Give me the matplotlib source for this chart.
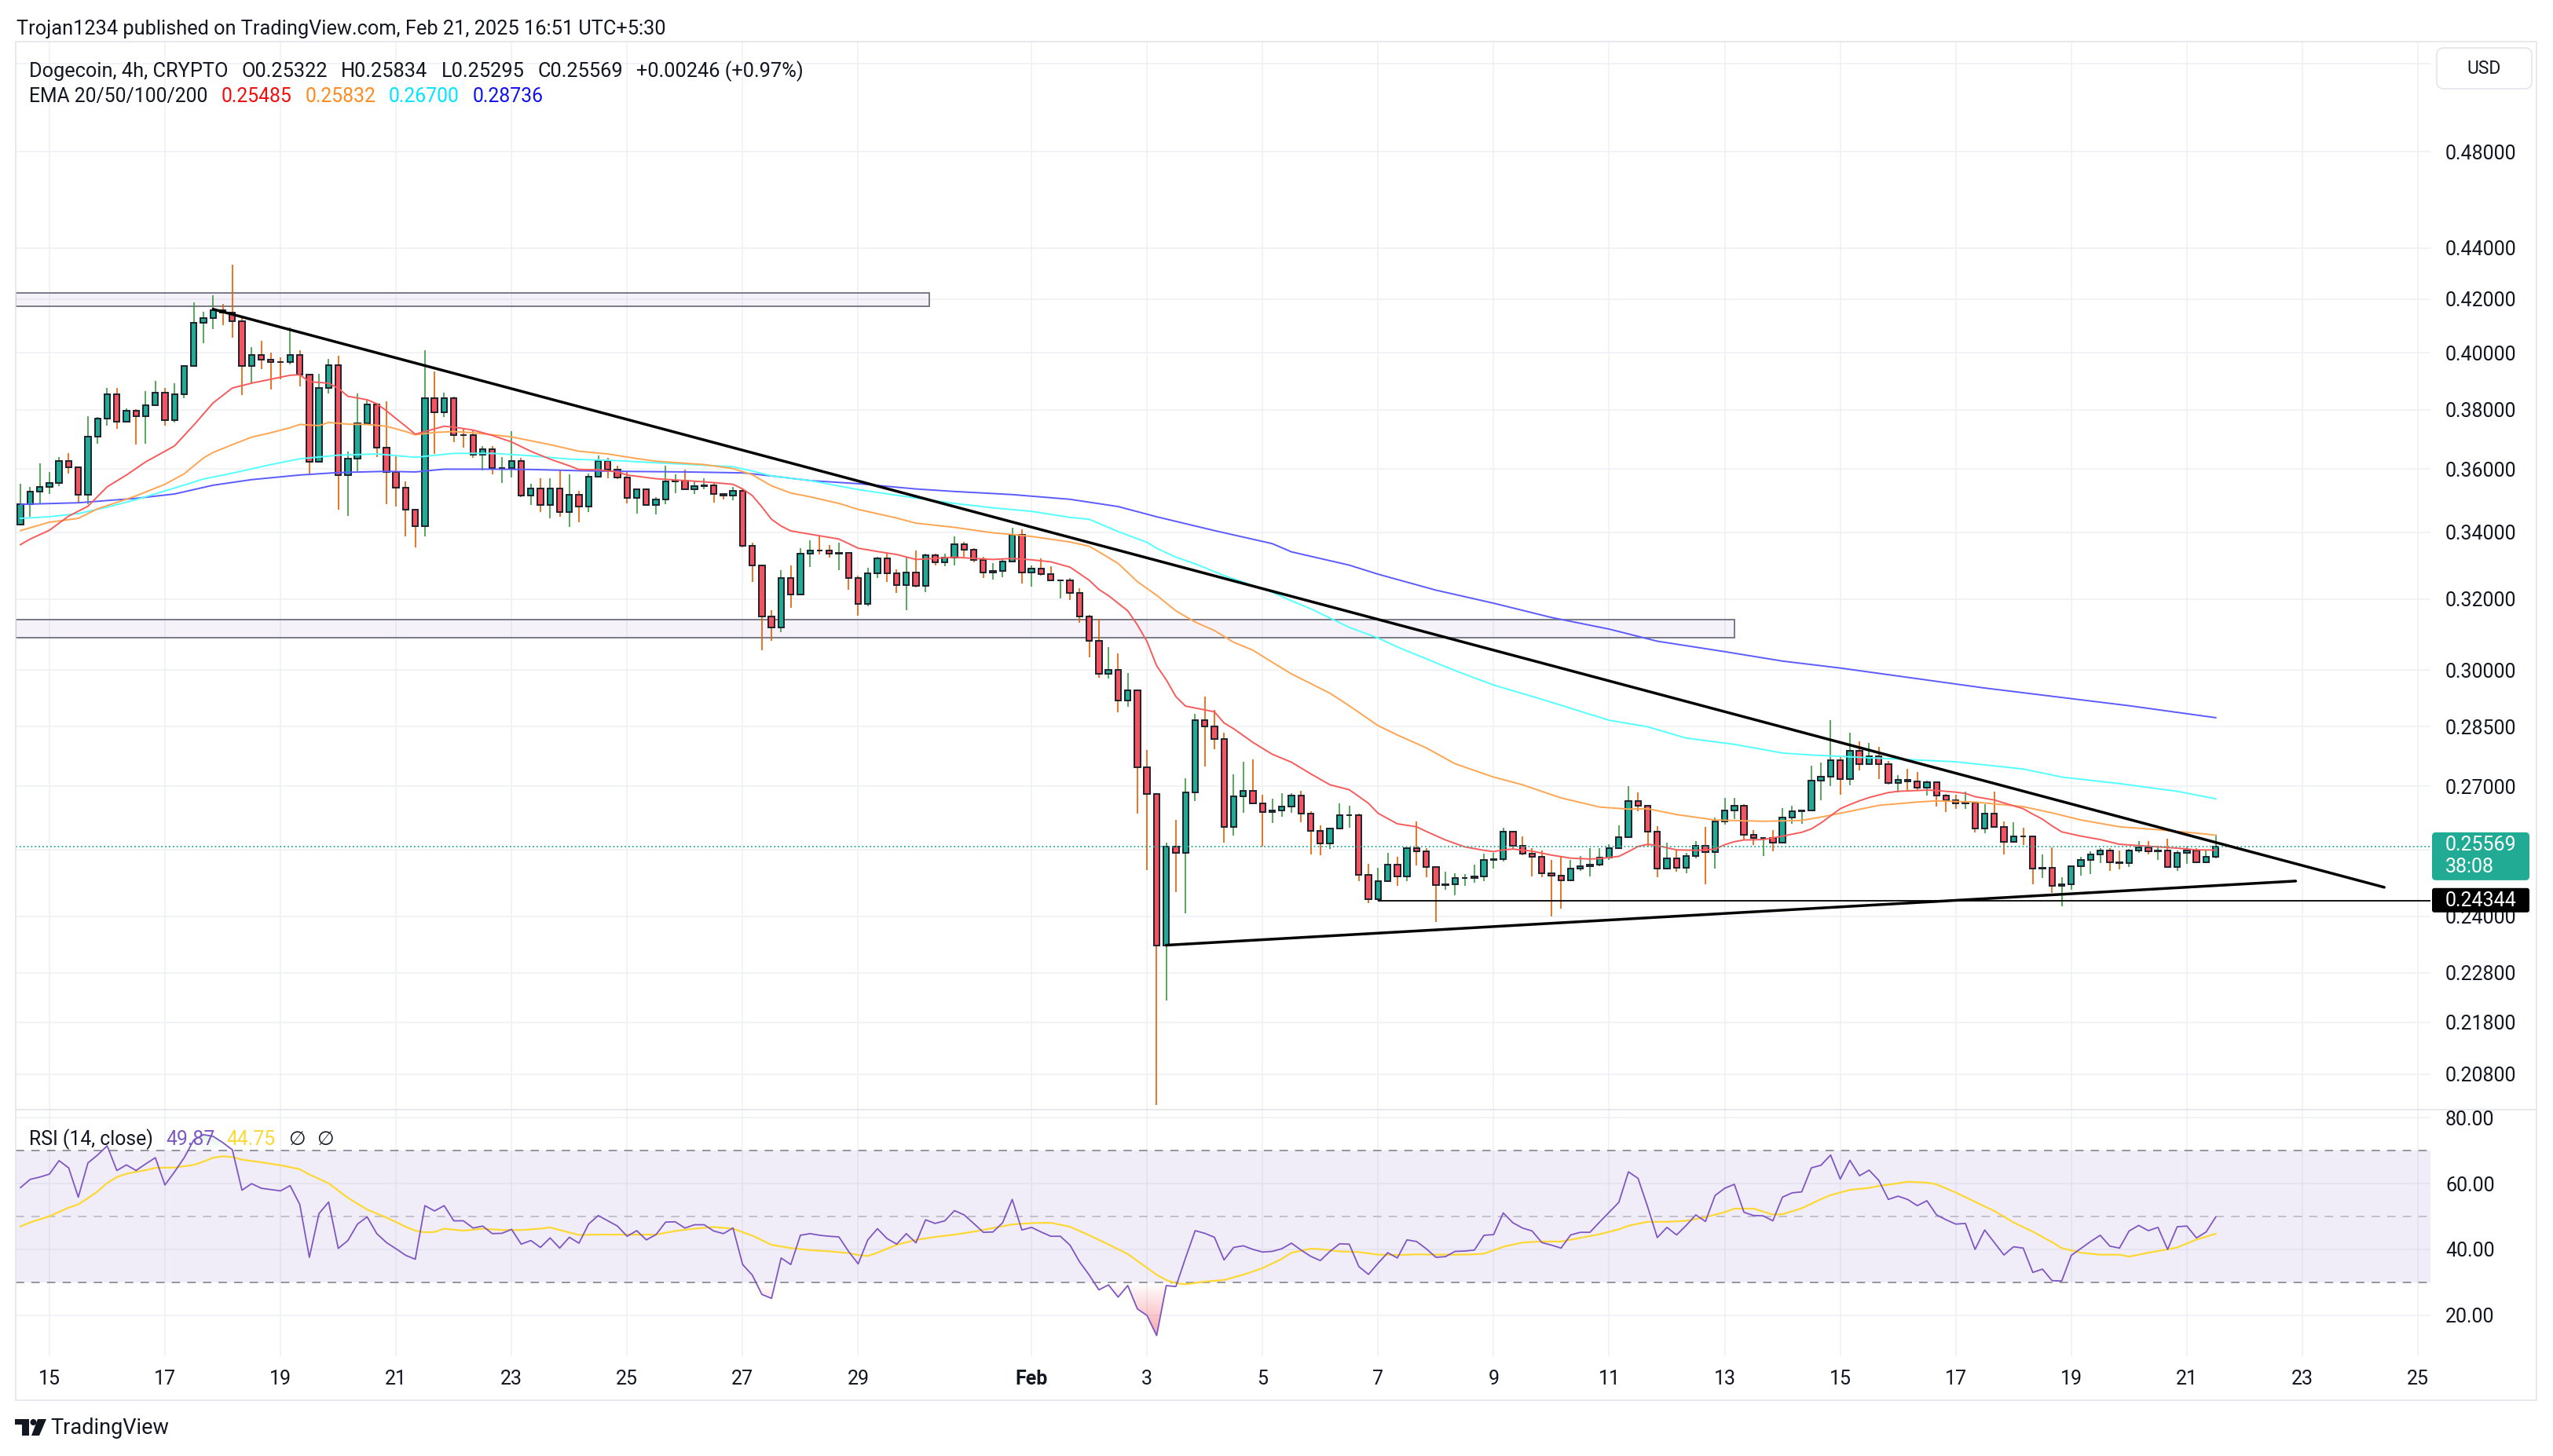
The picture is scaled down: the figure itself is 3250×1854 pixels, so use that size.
import numpy as np
import pandas as pd
import matplotlib
matplotlib.use("Agg")
import matplotlib.pyplot as plt
from matplotlib.patches import Rectangle, FancyBboxPatch, Polygon, Circle
from matplotlib.lines import Line2D
from matplotlib.path import Path
from matplotlib.ticker import NullLocator, NullFormatter
from matplotlib.transforms import IdentityTransform

# ------------------------------------------------------------------ data
start_time = "2025-01-14 12:00"
candle_hours = 4
first_open = 0.3424

close = [
    .3487, .3527, .3542, .3554, .3628, .3606, .3518, .3707, .3769, .3852,
    .3758, .3796, .3776, .3814, .3860, .3765, .3852, .3952, .4110, .4128,
    .4159, .4149, .4118, .3952, .3994, .3977, .3968, .3967, .3993, .3922,
    .3624, .3874, .3955, .3581, .3635, .3754, .3817, .3672, .3591, .3541,
    .3471, .3418, .3839, .3791, .3839, .3714, .3713, .3648, .3665, .3604,
    .3604, .3626, .3516, .3537, .3485, .3537, .3462, .3517, .3479, .3575,
    .3626, .3599, .3573, .3508, .3536, .3484, .3503, .3561, .3564, .3534,
    .3544, .3548, .3519, .3515, .3529, .3359, .3298, .3150, .3119, .3261,
    .3213, .3335, .3345, .3343, .3335, .3336, .3261, .3185, .3275, .3320,
    .3275, .3241, .3279, .3239, .3330, .3309, .3322, .3362, .3347, .3316,
    .3279, .3282, .3310, .3392, .3279, .3290, .3274, .3255, .3255, .3217,
    .3150, .3081, .2990, .3001, .2919, .2946, .2748, .2681, .2338, .2557,
    .2542, .2685, .2867, .2850, .2818, .2603, .2676, .2689, .2659, .2638,
    .2641, .2652, .2678, .2634, .2594, .2564, .2598, .2631, .2631, .2492,
    .2438, .2478, .2515, .2488, .2553, .2546, .2510, .2469, .2471, .2484,
    .2484, .2489, .2525, .2528, .2592, .2559, .2541, .2533, .2496, .2490,
    .2480, .2506, .2512, .2516, .2531, .2553, .2578, .2664, .2654, .2592,
    .2506, .2530, .2508, .2534, .2559, .2544, .2615, .2641, .2653, .2584,
    .2576, .2576, .2565, .2624, .2640, .2641, .2714, .2723, .2764, .2719,
    .2789, .2755, .2774, .2755, .2709, .2717, .2712, .2696, .2710, .2678,
    .2667, .2658, .2660, .2598, .2635, .2603, .2567, .2581, .2580, .2506,
    .2508, .2468, .2470, .2512, .2525, .2538, .2548, .2521, .2519, .2548,
    .2555, .2545, .2548, .2509, .2542, .2548, .2520, .25322, .25569,
]

high = [
    .3553, .3543, .3619, .3591, .3641, .3652, .3608, .3778, .3774, .3876,
    .3874, .3805, .3801, .3864, .3901, .3874, .3892, .3954, .4188, .4152,
    .4215, .4182, .4335, .4135, .4021, .4044, .4001, .3984, .4094, .4010,
    .3924, .3924, .3980, .3989, .3658, .3857, .3832, .3823, .3829, .3648,
    .3560, .3473, .4010, .3934, .3860, .3846, .3737, .3731, .3677, .3677,
    .3641, .3725, .3637, .3553, .3570, .3570, .3595, .3583, .3531, .3585,
    .3646, .3637, .3611, .3593, .3538, .3536, .3509, .3611, .3583, .3598,
    .3561, .3571, .3554, .3521, .3542, .3536, .3367, .3299, .3168, .3286,
    .3298, .3351, .3375, .3388, .3361, .3367, .3338, .3269, .3291, .3325,
    .3334, .3288, .3325, .3345, .3334, .3335, .3334, .3387, .3371, .3351,
    .3325, .3306, .3320, .3413, .3408, .3300, .3320, .3296, .3257, .3261,
    .3231, .3155, .3144, .3064, .3047, .2993, .2946, .2790, .2683, .2566,
    .2619, .2721, .2883, .2929, .2893, .2835, .2729, .2762, .2767, .2680,
    .2670, .2683, .2683, .2690, .2640, .2606, .2601, .2659, .2653, .2634,
    .2517, .2508, .2542, .2533, .2553, .2616, .2553, .2512, .2499, .2495,
    .2494, .2515, .2540, .2542, .2601, .2592, .2581, .2553, .2548, .2526,
    .2535, .2526, .2534, .2553, .2553, .2563, .2607, .2701, .2685, .2655,
    .2604, .2565, .2548, .2542, .2569, .2603, .2624, .2673, .2673, .2656,
    .2595, .2578, .2595, .2648, .2654, .2643, .2751, .2759, .2867, .2774,
    .2835, .2813, .2809, .2799, .2763, .2727, .2743, .2735, .2714, .2710,
    .2681, .2679, .2688, .2662, .2656, .2688, .2616, .2614, .2600, .2582,
    .2538, .2555, .2486, .2512, .2533, .2545, .2553, .2553, .2548, .2551,
    .2570, .2569, .2558, .2575, .2548, .2557, .2553, .2548, .25834,
]

low = [
    .3422, .3449, .3489, .3520, .3545, .3585, .3491, .3487, .3683, .3745,
    .3734, .3756, .3681, .3685, .3814, .3745, .3756, .3840, .3952, .4035,
    .4088, .4102, .4057, .3851, .3889, .3943, .3869, .3906, .3959, .3880,
    .3585, .3624, .3855, .3470, .3450, .3593, .3747, .3641, .3487, .3479,
    .3386, .3354, .3386, .3650, .3774, .3690, .3672, .3637, .3595, .3583,
    .3554, .3573, .3510, .3485, .3464, .3443, .3448, .3416, .3431, .3464,
    .3572, .3570, .3568, .3489, .3458, .3482, .3455, .3488, .3522, .3534,
    .3519, .3536, .3493, .3503, .3500, .3354, .3249, .3055, .3081, .3105,
    .3174, .3212, .3294, .3332, .3322, .3286, .3228, .3152, .3179, .3261,
    .3251, .3219, .3168, .3233, .3221, .3298, .3296, .3300, .3324, .3309,
    .3261, .3258, .3263, .3308, .3245, .3237, .3269, .3255, .3202, .3198,
    .3133, .3035, .2980, .2978, .2888, .2903, .2634, .2503, .2022, .2223,
    .2453, .2407, .2664, .2749, .2793, .2566, .2583, .2636, .2659, .2557,
    .2612, .2626, .2636, .2614, .2539, .2537, .2552, .2598, .2600, .2478,
    .2428, .2434, .2476, .2467, .2478, .2514, .2487, .2388, .2459, .2447,
    .2467, .2474, .2477, .2507, .2522, .2552, .2536, .2488, .2487, .2400,
    .2416, .2480, .2500, .2488, .2512, .2526, .2551, .2577, .2640, .2556,
    .2486, .2504, .2499, .2496, .2530, .2470, .2506, .2608, .2622, .2571,
    .2561, .2535, .2545, .2565, .2610, .2610, .2641, .2667, .2701, .2679,
    .2703, .2740, .2755, .2718, .2704, .2686, .2692, .2692, .2678, .2651,
    .2638, .2646, .2646, .2590, .2588, .2600, .2539, .2567, .2561, .2471,
    .2484, .2451, .2422, .2458, .2491, .2493, .2519, .2500, .2504, .2510,
    .2542, .2538, .2525, .2509, .2500, .2517, .2519, .2519, .25295,
]

# EMA readings: (candle index, value)
ema20 = [
    (0, .3362), (1, .3379), (3, .3406), (5, .3450), (7, .3481), (9, .3543), (11, .3581),
    (13, .3624), (15, .3659), (16, .3677), (18, .3747), (20, .3823), (22, .3875), (24, .3892),
    (26, .3906), (28, .3920), (29, .3922), (30, .3897), (32, .3892), (33, .3874), (34, .3846),
    (36, .3834), (37, .3820), (38, .3796), (39, .3769), (40, .3743), (41, .3716), (42, .3725),
    (43, .3734), (44, .3743), (45, .3740), (47, .3730), (49, .3712), (51, .3690), (53, .3659),
    (55, .3633), (57, .3611), (58, .3599), (60, .3598), (62, .3591), (63, .3581), (66, .3569),
    (68, .3565), (71, .3559), (74, .3551), (75, .3536), (76, .3515), (77, .3479), (78, .3440),
    (79, .3419), (80, .3404), (82, .3394), (83, .3389), (85, .3379), (87, .3351), (89, .3341),
    (91, .3332), (93, .3317), (95, .3320), (97, .3324), (99, .3320), (101, .3317), (103, .3320),
    (105, .3316), (107, .3310), (109, .3294), (111, .3255), (112, .3228), (113, .3210),
    (114, .3188), (115, .3166), (116, .3126), (117, .3079), (118, .3012), (119, .2974),
    (120, .2929), (121, .2904), (122, .2899), (124, .2889), (125, .2860), (126, .2845),
    (128, .2810), (130, .2780), (132, .2760), (134, .2731), (136, .2704), (138, .2692),
    (140, .2659), (141, .2635), (143, .2610), (145, .2603), (146, .2592), (148, .2572),
    (150, .2556), (152, .2548), (153, .2545), (154, .2549), (155, .2551), (157, .2546),
    (159, .2537), (161, .2530), (163, .2528), (164, .2529), (166, .2534), (167, .2545),
    (168, .2557), (169, .2562), (170, .2559), (172, .2549), (174, .2548), (175, .2549),
    (176, .2551), (177, .2561), (178, .2568), (179, .2572), (181, .2573), (183, .2581),
    (185, .2590), (186, .2598), (187, .2612), (188, .2629), (189, .2646), (190, .2656),
    (191, .2665), (192, .2673), (193, .2679), (194, .2685), (195, .2688), (197, .2690),
    (198, .2691), (199, .2690), (201, .2686), (202, .2683), (203, .2675), (205, .2667),
    (206, .2660), (208, .2646), (209, .2633), (210, .2621), (211, .2605), (212, .2591),
    (214, .2581), (216, .2573), (218, .2562), (220, .2559), (222, .2556), (224, .2553),
    (226, .2549), (228, .25485),
]
ema50 = [
    (0, .3405), (3, .3431), (6, .3443), (8, .3473), (10, .3493), (12, .3514), (15, .3551),
    (17, .3585), (19, .3637), (20, .3655), (22, .3681), (24, .3706), (26, .3721), (28, .3738),
    (29, .3749), (31, .3745), (32, .3756), (34, .3750), (36, .3749), (38, .3743), (40, .3725),
    (41, .3714), (43, .3722), (45, .3725), (47, .3721), (51, .3707), (55, .3681), (58, .3659),
    (61, .3650), (64, .3635), (66, .3626), (71, .3615), (74, .3602), (76, .3582), (78, .3546),
    (80, .3523), (82, .3511), (85, .3490), (87, .3471), (91, .3444), (93, .3428), (97, .3415),
    (101, .3398), (103, .3393), (105, .3387), (109, .3370), (111, .3357), (112, .3340),
    (114, .3305), (116, .3251), (118, .3211), (120, .3166), (122, .3134), (124, .3110),
    (126, .3077), (128, .3055), (130, .3022), (132, .2990), (134, .2964), (136, .2938),
    (138, .2905), (141, .2853), (143, .2829), (146, .2796), (149, .2756), (153, .2723),
    (156, .2704), (160, .2672), (164, .2650), (167, .2645), (169, .2646), (172, .2632),
    (176, .2619), (181, .2616), (185, .2618), (187, .2626), (189, .2635), (193, .2654),
    (197, .2662), (199, .2665), (203, .2662), (208, .2651), (211, .2636), (214, .2619),
    (218, .2603), (222, .2596), (226, .2588), (228, .25832),
]
ema100 = [
    (0, .3443), (3, .3448), (6, .3458), (9, .3478), (12, .3502), (16, .3539), (19, .3568),
    (22, .3587), (26, .3615), (29, .3634), (33, .3646), (37, .3650), (41, .3639), (45, .3652),
    (49, .3652), (53, .3644), (57, .3633), (62, .3628), (66, .3621), (71, .3613), (74, .3608),
    (76, .3594), (78, .3578), (82, .3563), (87, .3534), (93, .3507), (97, .3490), (101, .3476),
    (105, .3465), (109, .3446), (111, .3440), (114, .3402), (117, .3369), (118, .3351),
    (120, .3324), (122, .3304), (125, .3269), (130, .3220), (132, .3195), (134, .3172),
    (138, .3119), (141, .3089), (143, .3064), (149, .2999), (153, .2960), (158, .2922),
    (165, .2867), (169, .2850), (173, .2821), (178, .2805), (183, .2783), (186, .2778),
    (193, .2770), (201, .2761), (208, .2743), (212, .2723), (218, .2707), (224, .2688),
    (228, .2670),
]
ema200 = [
    (0, .3487), (6, .3492), (12, .3506), (16, .3520), (20, .3548), (24, .3566), (29, .3581),
    (33, .3589), (38, .3593), (41, .3591), (44, .3600), (49, .3600), (53, .3599), (58, .3595),
    (62, .3593), (69, .3591), (75, .3588), (78, .3578), (82, .3563), (87, .3553), (93, .3536),
    (97, .3528), (103, .3518), (109, .3503), (114, .3480), (118, .3448), (124, .3405),
    (130, .3365), (132, .3340), (138, .3300), (141, .3273), (147, .3226), (153, .3188),
    (159, .3147), (165, .3114), (170, .3080), (177, .3051), (183, .3025), (189, .3006),
    (204, .2952), (219, .2905), (228, .28736),
]

rsi = [
    58.8, 61.3, 62.0, 62.9, 67.0, 64.8, 55.9, 66.3, 68.7, 71.5,
    64.0, 65.7, 64.0, 66.0, 67.9, 59.6, 63.6, 67.9, 73.3, 74.9,
    74.4, 72.5, 70.3, 58.0, 60.0, 58.6, 58.2, 57.8, 59.4, 53.7,
    37.6, 50.9, 54.4, 40.3, 42.7, 47.7, 49.9, 44.8, 42.1, 40.2,
    38.2, 37.0, 53.3, 51.7, 53.3, 48.7, 48.7, 46.5, 47.1, 44.8,
    44.9, 46.1, 41.6, 42.7, 40.6, 43.5, 40.4, 43.7, 41.9, 47.7,
    50.3, 48.7, 47.1, 44.0, 45.7, 42.9, 44.5, 48.3, 48.4, 46.5,
    47.5, 47.5, 45.6, 44.8, 46.5, 35.4, 32.2, 26.3, 25.1, 37.4,
    35.4, 44.3, 44.8, 44.3, 44.0, 43.8, 39.4, 35.6, 42.9, 46.3,
    43.3, 41.6, 44.8, 42.0, 49.0, 47.9, 48.7, 51.8, 50.5, 47.9,
    45.2, 45.3, 48.1, 55.2, 45.9, 46.7, 45.3, 44.0, 44.0, 41.3,
    36.2, 32.2, 27.7, 29.2, 25.5, 29.0, 21.9, 19.9, 13.8, 29.0,
    28.7, 37.4, 45.7, 44.9, 43.7, 36.8, 40.6, 41.1, 40.0, 39.2,
    39.4, 40.2, 41.9, 39.8, 37.9, 36.6, 39.4, 41.7, 41.6, 34.8,
    32.4, 35.8, 39.0, 37.4, 42.9, 42.4, 40.2, 37.6, 37.8, 39.4,
    39.5, 39.8, 44.3, 44.5, 51.1, 48.1, 46.5, 45.6, 42.1, 41.3,
    40.4, 44.4, 45.2, 45.2, 48.3, 51.3, 54.3, 63.6, 61.6, 52.9,
    43.6, 46.7, 44.4, 47.3, 50.5, 48.5, 56.4, 58.6, 59.8, 51.3,
    50.3, 50.2, 48.7, 55.9, 57.2, 57.5, 64.8, 65.6, 68.7, 61.4,
    67.1, 62.4, 64.1, 61.0, 55.2, 56.2, 55.2, 53.3, 54.8, 50.5,
    49.0, 47.7, 47.9, 40.0, 45.9, 42.1, 38.3, 40.8, 40.4, 33.0,
    34.0, 30.5, 30.4, 38.2, 40.3, 42.4, 44.3, 41.0, 40.4, 45.6,
    47.3, 45.7, 46.7, 40.0, 46.9, 47.1, 43.5, 45.3, 49.87,
]

rsi_ma = [
    (0, 47.0), (1, 48.2), (3, 50.1), (5, 52.7), (6, 53.7), (7, 55.6), (8, 57.6), (9, 60.2),
    (10, 62.0), (11, 63.0), (12, 63.6), (13, 64.1), (14, 64.8), (16, 64.9), (18, 65.7),
    (19, 66.7), (20, 67.9), (21, 68.3), (22, 68.1), (23, 67.3), (25, 66.5), (27, 65.6),
    (29, 64.4), (30, 62.8), (32, 60.1), (34, 55.7), (36, 52.1), (38, 49.7), (40, 46.9),
    (41, 45.7), (42, 45.2), (43, 45.3), (44, 46.3), (46, 45.7), (48, 46.3), (50, 45.9),
    (52, 45.9), (54, 46.3), (55, 46.7), (56, 45.9), (58, 44.4), (60, 44.5), (62, 44.5),
    (64, 44.5), (66, 44.5), (68, 45.6), (70, 46.3), (72, 46.8), (74, 46.3), (76, 44.2),
    (78, 41.4), (80, 40.4), (82, 39.8), (84, 39.4), (86, 38.9), (87, 38.3), (88, 38.0),
    (89, 39.0), (91, 41.4), (93, 42.9), (95, 43.8), (97, 44.5), (99, 45.4), (101, 46.5),
    (103, 47.6), (105, 48.0), (107, 48.1), (109, 46.9), (111, 44.3), (113, 41.5),
    (115, 38.6), (116, 36.5), (118, 32.3), (119, 30.7), (120, 29.7), (121, 29.4),
    (123, 30.2), (125, 30.7), (127, 32.3), (129, 34.3), (131, 37.1), (132, 39.0),
    (134, 40.2), (135, 40.1), (137, 39.4), (139, 39.2), (141, 38.4), (143, 38.3),
    (145, 38.5), (147, 38.4), (149, 38.4), (151, 38.5), (152, 38.7), (154, 40.8),
    (156, 42.1), (158, 42.4), (160, 42.4), (162, 43.5), (164, 44.6), (166, 46.1),
    (167, 47.2), (169, 48.4), (171, 48.4), (173, 48.7), (175, 49.8), (177, 51.3),
    (178, 52.4), (180, 52.4), (181, 51.5), (182, 50.6), (183, 50.7), (185, 52.5),
    (187, 55.3), (188, 56.5), (190, 58.1), (192, 58.7), (193, 59.3), (195, 60.1),
    (196, 60.6), (198, 60.3), (199, 59.8), (201, 57.3), (203, 54.5), (205, 51.7),
    (207, 48.2), (209, 45.4), (211, 42.2), (212, 40.4), (214, 39.0), (216, 38.4),
    (218, 38.4), (219, 37.8), (221, 39.0), (223, 40.0), (224, 40.6), (226, 43.0),
    (228, 44.75),
]

price_ticks = [0.52, 0.48, 0.44, 0.42, 0.40, 0.38, 0.36, 0.34, 0.32, 0.30, 0.285, 0.27,
               0.255, 0.24, 0.228, 0.218, 0.208]
price_hidden = [0.52, 0.255]
rsi_ticks = [20, 40, 60, 80]
date_ticks = ["2025-01-15", "2025-01-17", "2025-01-19", "2025-01-21", "2025-01-23",
              "2025-01-25", "2025-01-27", "2025-01-29", "2025-02-01", "2025-02-03",
              "2025-02-05", "2025-02-07", "2025-02-09", "2025-02-11", "2025-02-13",
              "2025-02-15", "2025-02-17", "2025-02-19", "2025-02-21", "2025-02-23",
              "2025-02-25"]
date_labels = ["15", "17", "19", "21", "23", "25", "27", "29", "Feb", "3", "5", "7", "9",
               "11", "13", "15", "17", "19", "21", "23", "25"]

last_price = 0.25569
countdown = "38:08"
level_price = 0.24344
level_start = 141
desc_line = [(20, 0.4162), (245.5, 0.2464)]
asc_line = [(119, 0.2338), (236.3, 0.2478)]
zones = [(94.4, 0.4172, 0.4224), (178, 0.3089, 0.3140)]  # (end index, low, high)

ohlc_legend = ["O0.25322", "H0.25834", "L0.25295", "C0.25569", "+0.00246 (+0.97%)"]
ema_legend = ["0.25485", "0.25832", "0.26700", "0.28736"]
rsi_legend = ["49.87", "44.75"]

# ------------------------------------------------------------------ style
W, H, DPI = 3250, 1854, 100
FONT = ["Roboto", "DejaVu Sans"]
plt.rcParams["font.family"] = FONT
TXT = "#131722"
UP, DN = "#22ab94", "#f7525f"
WICK_UP, WICK_DN = "#3c9a3f", "#e65c00"
BODY_EDGE = "#1e222d"
GRID = "#eff0f4"
C20, C50, C100, C200 = "#f75c5c", "#ffa552", "#55ffff", "#5b5bff"
L20, L50, L100, L200 = "#f20d0d", "#ff8a1f", "#00e5ff", "#1010f0"
RSI_C, MA_C = "#7e57c2", "#fdd835"
LAB = 18
HDR = 18.2

fig = plt.figure(figsize=(W / DPI, H / DPI), dpi=DPI, facecolor="white")
ID = IdentityTransform()

def fx(px):
    return px / W

def fy(py):
    return 1 - py / H

L, R = 20, 3094
PT, PB = 53, 1413
RT, RB = 1413, 1727
ax = fig.add_axes([fx(L), fy(PB), fx(R) - fx(L), fy(PT) - fy(PB)])
axr = fig.add_axes([fx(L), fy(RB), fx(R) - fx(L), fy(RT) - fy(RB)], sharex=ax)
XL = (-0.5, 250.3)

n = len(close)
x = np.arange(n)
c = np.array(close)
o = np.concatenate([[first_open], c[:-1]])
h = np.maximum(np.array(high), np.maximum(o, c))
lo = np.minimum(np.array(low), np.minimum(o, c))
up = c >= o
blo, bhi = np.minimum(o, c), np.maximum(o, c)

# ------------------------------------------------------------------ price pane
ax.set_yscale("log")
ax.set_xlim(*XL)
ax.set_ylim(0.2014, 0.5305)
ax.set_axisbelow(True)

t0 = pd.Timestamp(start_time)
tick_pos = [(pd.Timestamp(d) - t0) / pd.Timedelta(hours=candle_hours) for d in date_ticks]

for zx, zlo, zhi in zones:
    ax.add_patch(Rectangle((XL[0], zlo), zx - XL[0], zhi - zlo,
                           facecolor=(0.61, 0.46, 0.80, 0.09), edgecolor="#787b86",
                           lw=1.4, zorder=2))

ax.vlines(x[up], lo[up], h[up], color=WICK_UP, lw=1.2, zorder=3)
ax.vlines(x[~up], lo[~up], h[~up], color=WICK_DN, lw=1.2, zorder=3)
ax.bar(x, bhi - blo, bottom=blo, width=0.6, color=np.where(up, UP, DN),
       edgecolor=BODY_EDGE, linewidth=1.4, zorder=4)

for series, col in ((ema200, C200), (ema100, C100), (ema50, C50), (ema20, C20)):
    xi, yv = zip(*series)
    ax.plot(xi, yv, color=col, lw=1.4, zorder=5, solid_joinstyle="round")

for line in (desc_line, asc_line):
    xi, yv = zip(*line)
    ax.plot(xi, yv, color="black", lw=2.5, zorder=7, solid_capstyle="round")
ax.hlines(level_price, level_start, XL[1], color="black", lw=1.3, zorder=7)
ax.axhline(last_price, color=UP, lw=1.3, ls=(0, (1, 1.7)), zorder=6)

ax.set_xticks(tick_pos)
ax.set_yticks(price_ticks, labels=["" if v in price_hidden else f"{v:.5f}" for v in price_ticks])
ax.yaxis.set_minor_locator(NullLocator())
ax.yaxis.set_minor_formatter(NullFormatter())
ax.yaxis.tick_right()
ax.tick_params(axis="y", length=0, pad=13.7, labelsize=LAB, labelcolor=TXT)
ax.tick_params(axis="x", length=0, labelbottom=False)
ax.grid(True, color=GRID, lw=1.1)

# ------------------------------------------------------------------ RSI pane
axr.set_ylim(7.5, 82.5)
axr.set_axisbelow(True)
axr.axhspan(30, 70, facecolor=RSI_C, alpha=0.1, lw=0, zorder=1)
for lvl, col in ((70, "#787b86"), (50, "#b2b5be"), (30, "#787b86")):
    axr.axhline(lvl, color=col, lw=1.1, ls=(0, (7, 6)), zorder=2)

r = np.array(rsi)

def gradient_fill(axis, xs, ys, level, where, rgb, a_far, far):
    coll = axis.fill_between(xs, ys, level, where=where, interpolate=True,
                             facecolor="none", edgecolor="none")
    paths = coll.get_paths()
    if not paths:
        return
    cp = Path.make_compound_path(*paths)
    ylo, yhi = sorted([level, far])
    yy = np.linspace(ylo, yhi, 256)
    img = np.zeros((256, 2, 4))
    img[..., :3] = rgb
    img[..., 3] = (a_far * np.abs(yy - level) / abs(far - level))[:, None]
    im = axis.imshow(img, extent=[XL[0], XL[1], ylo, yhi], origin="lower",
                     aspect="auto", zorder=3, interpolation="bilinear")
    im.set_clip_path(cp, axis.transData)

gradient_fill(axr, x, r, 30, r < 30, (0.95, 0.21, 0.27), 0.55, 10)
gradient_fill(axr, x, r, 70, r > 70, (0.20, 0.70, 0.35), 0.30, 80)
axr.set_xlim(*XL)
axr.set_ylim(7.5, 82.5)

axr.plot(x, r, color=RSI_C, lw=1.3, zorder=5)
mx, mv = zip(*rsi_ma)
axr.plot(mx, mv, color=MA_C, lw=1.6, zorder=4)

axr.set_xticks(tick_pos, labels=date_labels)
for t in axr.get_xticklabels():
    if t.get_text() == "Feb":
        t.set_fontweight("bold")
axr.set_yticks(rsi_ticks, labels=[f"{v:.2f}" for v in rsi_ticks])
axr.yaxis.tick_right()
axr.tick_params(axis="y", length=0, pad=13.7, labelsize=LAB, labelcolor=TXT)
axr.tick_params(axis="x", length=0, pad=12, labelsize=LAB, labelcolor=TXT)
axr.grid(True, color=GRID, lw=1.1)

for a in (ax, axr):
    for s in a.spines.values():
        s.set_visible(False)

# ------------------------------------------------------------------ frame
FR = "#e0e3eb"
fig.add_artist(Rectangle((20, H - 1783), 3209, 1730, transform=ID, fill=False,
                         edgecolor=FR, lw=1.1))
fig.add_artist(Line2D([20, 3229], [H - 1413, H - 1413], transform=ID, color=FR, lw=1.1))

def T(xp, yimg, s, **kw):
    kw.setdefault("fontsize", HDR)
    kw.setdefault("color", TXT)
    kw.setdefault("va", "center")
    return fig.text(xp, H - yimg, s, transform=ID, **kw)

# price-scale labels
def img_y(axis, val):
    return H - axis.transData.transform((0, val))[1]

yl = img_y(ax, last_price)
fig.add_artist(FancyBboxPatch((3096, H - (yl + 43)), 124, 61, transform=ID,
                              boxstyle="round,pad=0,rounding_size=5",
                              facecolor=UP, edgecolor="none", zorder=10))
T(3113, yl - 2, f"{last_price:.5f}", color="white", fontsize=LAB, zorder=11)
T(3113, yl + 26, countdown, color="white", fontsize=LAB, zorder=11)
yb = img_y(ax, level_price)
fig.add_artist(FancyBboxPatch((3096, H - (yb + 15)), 124, 31, transform=ID,
                              boxstyle="round,pad=0,rounding_size=3",
                              facecolor="black", edgecolor="none", zorder=10))
T(3113, yb, f"{level_price:.5f}", color="white", fontsize=LAB, zorder=11)

fig.add_artist(FancyBboxPatch((3102, H - 113), 121, 52, transform=ID,
                              boxstyle="round,pad=0,rounding_size=9",
                              facecolor="white", edgecolor=FR, lw=1.1))
T(3162, 87, "USD", ha="center", fontsize=16.5)

# ------------------------------------------------------------------ header / legends
renderer = fig.canvas.get_renderer()

def seq(xp, yimg, pieces, size=HDR):
    for s, col, gap in pieces:
        t = T(xp, yimg, s, color=col, fontsize=size)
        xp += t.get_window_extent(renderer).width + gap
    return xp

T(21, 37, "Trojan1234 published on TradingView.com, Feb 21, 2025 16:51 UTC+5:30", fontsize=18.3)
seq(37, 91, [("Dogecoin, 4h, CRYPTO", TXT, 17)] + [(s, TXT, 17) for s in ohlc_legend], 18.3)
seq(37, 123, [("EMA 20/50/100/200", TXT, 17)] +
    [(s, col, 17) for s, col in zip(ema_legend, (L20, L50, L100, L200))], 17.8)
seq(37, 1451, [("RSI (14, close)", TXT, 17), (rsi_legend[0], RSI_C, 14),
               (rsi_legend[1], MA_C, 17), ("\u2205", TXT, 14), ("\u2205", TXT, 0)], 17.8)

# TradingView logo
fig.add_artist(Polygon([(19, H - 1807), (37, H - 1807), (37, H - 1828), (28, H - 1828),
                        (28, H - 1814), (19, H - 1814)], closed=True, transform=ID,
                       facecolor=TXT, edgecolor="none"))
fig.add_artist(Circle((42.5, H - 1811), 4, transform=ID, facecolor=TXT, edgecolor="none"))
fig.add_artist(Polygon([(48, H - 1807), (59, H - 1807), (50, H - 1828), (40, H - 1828)],
                       closed=True, transform=ID, facecolor=TXT, edgecolor="none"))
T(64, 1818, "TradingView", fontsize=19.5)

fig.savefig("out.png", dpi=DPI, facecolor="white")
